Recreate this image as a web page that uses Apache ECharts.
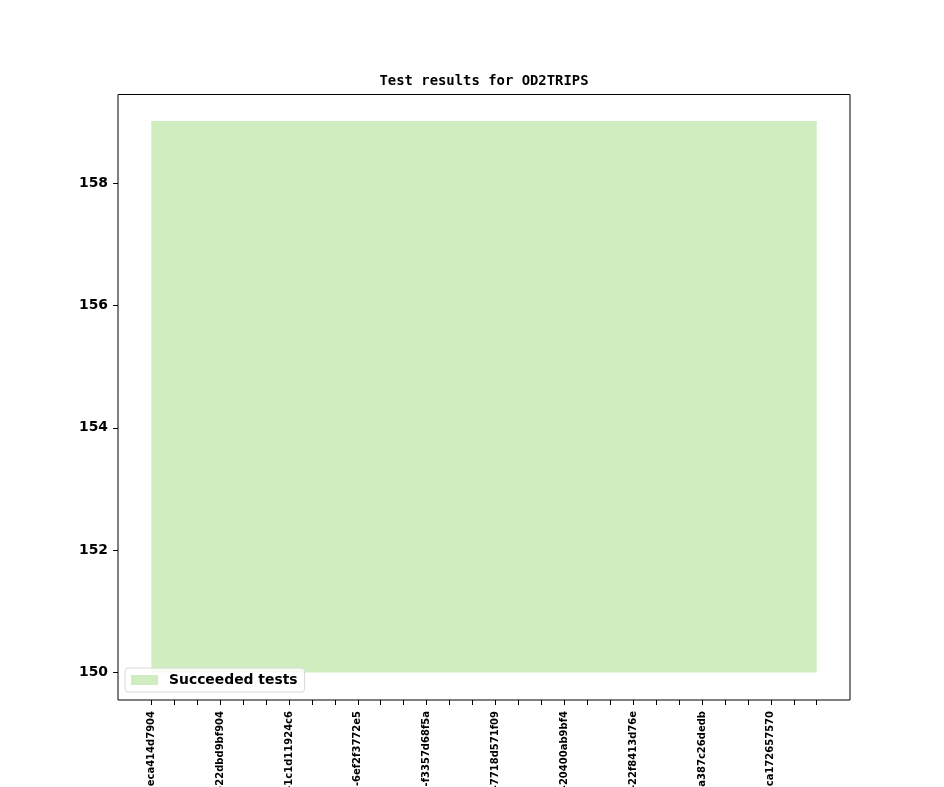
<!DOCTYPE html>
<html lang="en">
<head>
  <meta charset="UTF-8">
  <title>Test results for OD2TRIPS</title>
  <script src="https://cdn.jsdelivr.net/npm/echarts@6.0.0/dist/echarts.min.js"></script>
  <style>
    body { margin: 0; padding: 0; background: #fff; }
    #chart { width: 944px; height: 787px; }
  </style>
</head>
<body>
  <div id="chart"></div>
  <script>
    // build index along the x axis (30 builds)
    const builds = [0, 1, 2, 3, 4, 5, 6, 7, 8, 9, 10, 11, 12, 13, 14, 15, 16, 17, 18, 19,
                    20, 21, 22, 23, 24, 25, 26, 27, 28, 29];
    // succeeded tests per build
    const succeeded = [159, 159, 159, 159, 159, 159, 159, 159, 159, 159, 159, 159, 159, 159, 159,
                       159, 159, 159, 159, 159, 159, 159, 159, 159, 159, 159, 159, 159, 159, 159];
    const baseValue = 150;
    // labelled builds (every 3rd) and their commit labels
    const labelIdx = [0, 3, 6, 9, 12, 15, 18, 21, 24, 27];
    const commitLabels = ['-eca414d7904', '-22dbd9bf904', '-1c1d11924c6', '-6ef2f3772e5', '-f3357d68f5a',
                          '-7718d571f09', '-20400ab9bf4', '-22f8413d76e', '-a387c26dedb', '-ca172657570'];
    const yTicks = [150, 152, 154, 156, 158];

    const chart = echarts.init(document.getElementById('chart'));
    chart.setOption({
      animation: false,
      title: {
        text: 'Test results for OD2TRIPS',
        left: 484, top: 74, textAlign: 'center', padding: 0,
        textStyle: { fontFamily: 'DejaVu Sans Mono', fontWeight: 'bold', fontSize: 13.9, color: '#000' }
      },
      grid: {
        left: 118, right: 94, top: 94.5, bottom: 87,
        outerBoundsMode: 'none',
        show: true, borderColor: '#000', borderWidth: 1
      },
      legend: {
        left: 125, top: 668,
        data: [{ name: 'Succeeded tests', icon: 'rect' }],
        itemWidth: 27, itemHeight: 10,
        padding: [5, 7, 5, 6],
        borderColor: '#d8d8d8', borderWidth: 1, borderRadius: 3,
        backgroundColor: 'rgba(255,255,255,0.8)',
        textStyle: { fontFamily: 'DejaVu Sans', fontWeight: 'bold', fontSize: 13.9, color: '#000', padding: [0, 0, 0, 6] }
      },
      xAxis: {
        type: 'value', min: -1.45, max: 30.45,
        axisLine: { show: false, onZero: false },
        splitLine: { show: false },
        axisTick: { show: true, inside: false, length: 5, lineStyle: { color: '#000' }, customValues: builds },
        axisLabel: {
          customValues: labelIdx, rotate: 90, margin: 11,
          fontFamily: 'DejaVu Sans', fontWeight: 'bold', fontSize: 10, color: '#000',
          formatter: v => commitLabels[labelIdx.indexOf(Math.round(v))] || ''
        }
      },
      yAxis: {
        type: 'value', min: 149.55, max: 159.45,
        axisLine: { show: false, onZero: false },
        splitLine: { show: false },
        axisTick: { show: true, inside: false, length: 5, lineStyle: { color: '#000' }, customValues: yTicks },
        axisLabel: {
          customValues: yTicks, margin: 10,
          fontFamily: 'DejaVu Sans', fontWeight: 'bold', fontSize: 13.9, color: '#000'
        }
      },
      series: [{
        name: 'Succeeded tests',
        type: 'line',
        data: builds.map((b, i) => [b, succeeded[i]]),
        showSymbol: false,
        color: '#cfedbf',
        lineStyle: { width: 2, color: '#cfedbf' },
        areaStyle: { color: '#cfedbf', opacity: 1, origin: baseValue }
      }]
    });
  </script>
</body>
</html>
